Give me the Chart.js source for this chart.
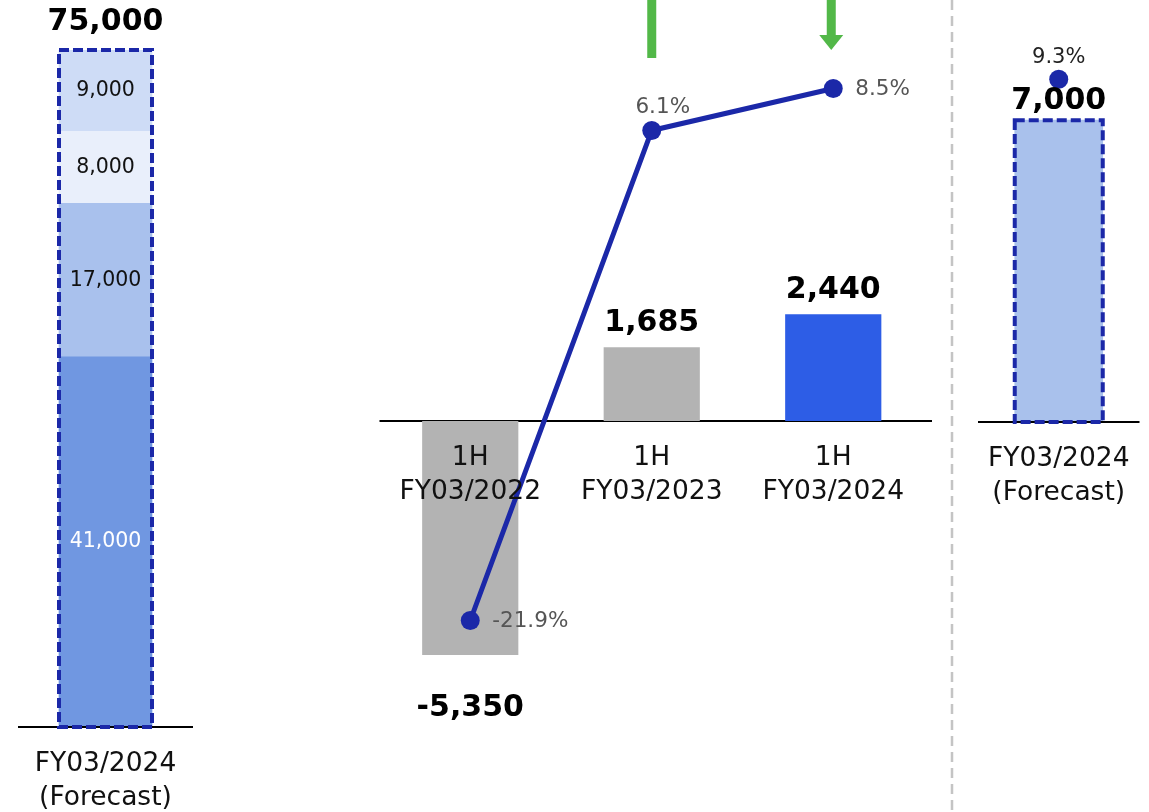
<!DOCTYPE html>
<html lang="en">
<head>
<meta charset="UTF-8">
<title>Operating Income</title>
<script src="https://cdn.jsdelivr.net/npm/chart.js"></script>
<style>
  body { margin: 0; background: #fff; width: 1149px; height: 812px; overflow: hidden; position: relative; }
  canvas { position: absolute; top: 0; }
</style>
</head>
<body>
<canvas id="forecastStack" width="212" height="812" style="left:0px"></canvas>
<canvas id="halfYear" width="580" height="812" style="left:370px"></canvas>
<canvas id="fullYear" width="209" height="812" style="left:940px"></canvas>

<script>
// Full year sales forecast, broken into segments (bottom to top)
const stackCategories = [['FY03/2024', '(Forecast)']];
const stackSegments = [41000, 17000, 8000, 9000];

// First half operating income and margin
const halfCategories = [['1H', 'FY03/2022'], ['1H', 'FY03/2023'], ['1H', 'FY03/2024']];
const halfIncome = [-5350, 1685, 2440];
const halfMargin = [-21.9, 6.1, 8.5];

// Full year operating income forecast and margin
const yearCategories = [['FY03/2024', '(Forecast)']];
const yearIncome = [7000];
const yearMargin = [9.3];

const FONT = "'DejaVu Sans', Verdana, sans-serif";
const NAVY = '#1b28a8';
const GREEN = '#52b848';
const segColors = ['#7097e1', '#a9c1ed', '#e9effb', '#cedcf6'];

Chart.defaults.font.family = FONT;
Chart.defaults.animation = false;

const fmt = v => v.toLocaleString('en-US');

function text(ctx, str, x, y, size, color, bold, align) {
    ctx.font = (bold ? 'bold ' : '') + size + 'px ' + FONT;
    ctx.fillStyle = color;
    ctx.textAlign = align || 'center';
    ctx.textBaseline = 'middle';
    ctx.fillText(str, x, y);
}

function baseline(chart, extra) {
    const ctx = chart.ctx;
    const y0 = chart.scales.y.getPixelForValue(0);
    ctx.save();
    ctx.strokeStyle = '#000';
    ctx.lineWidth = 2;
    ctx.beginPath();
    ctx.moveTo(chart.chartArea.left, y0);
    ctx.lineTo(chart.chartArea.right + (extra || 0), y0);
    ctx.stroke();
    ctx.restore();
}

function categoryLabels(chart, cats) {
    const y0 = chart.scales.y.getPixelForValue(0);
    cats.forEach((lines, i) => {
        const x = chart.scales.x.getPixelForValue(i);
        lines.forEach((line, j) => text(chart.ctx, line, x, y0 + 37 + j * 34, 26.5, '#111'));
    });
}

function dashedBox(ctx, left, top, right, bottom) {
    ctx.save();
    ctx.strokeStyle = NAVY;
    ctx.lineWidth = 4;
    ctx.setLineDash([10, 4]);
    ctx.strokeRect(left, top, right - left, bottom - top);
    ctx.restore();
}

const hidden = { display: false };

// ---- left: stacked forecast bar ----
const stackPlugin = {
    id: 'stackDecor',
    afterDatasetsDraw(chart) {
        const ctx = chart.ctx;
        const y = chart.scales.y;
        baseline(chart);
        const total = stackSegments.reduce((a, b) => a + b, 0);
        let bar;
        stackSegments.forEach((v, i) => {
            bar = chart.getDatasetMeta(i).data[0];
            text(ctx, fmt(v), bar.x, (bar.y + bar.base) / 2, 20.5, i === 0 ? '#fff' : '#111');
        });
        const left = bar.x - bar.width / 2, right = bar.x + bar.width / 2;
        dashedBox(ctx, left, y.getPixelForValue(total), right, y.getPixelForValue(0));
        text(ctx, fmt(total), bar.x, y.getPixelForValue(total) - 28, 30, '#000', true);
        categoryLabels(chart, stackCategories);
    }
};

new Chart(document.getElementById('forecastStack'), {
    type: 'bar',
    data: {
        labels: stackCategories,
        datasets: stackSegments.map((v, i) => ({
            data: [v],
            backgroundColor: segColors[i],
            barThickness: 93
        }))
    },
    options: {
        responsive: false,
        layout: { padding: { left: 18, right: 19, top: 50, bottom: 85 } },
        plugins: { legend: hidden, tooltip: { enabled: false } },
        scales: {
            x: { stacked: true, display: false },
            y: { stacked: true, display: false, min: 0, max: 75000 }
        }
    },
    plugins: [stackPlugin]
});

// ---- middle: first half income bars with margin line ----
function downArrow(ctx, x, shaftEnd, headEnd) {
    ctx.fillStyle = GREEN;
    ctx.fillRect(x - 4.5, 0, 9, shaftEnd);
    if (headEnd) {
        ctx.beginPath();
        ctx.moveTo(x - 12, shaftEnd);
        ctx.lineTo(x + 12, shaftEnd);
        ctx.lineTo(x, headEnd);
        ctx.closePath();
        ctx.fill();
    }
}

const halfPlugin = {
    id: 'halfDecor',
    beforeDatasetsDraw(chart) {
        baseline(chart, 8);
    },
    afterDatasetsDraw(chart) {
        const ctx = chart.ctx;
        const bars = chart.getDatasetMeta(0).data;
        const pts = chart.getDatasetMeta(1).data;

        halfIncome.forEach((v, i) => {
            const b = bars[i];
            const ly = v < 0 ? b.y + 53 : b.y - 24;
            text(ctx, fmt(v), b.x, ly, 30, '#000', true);
        });

        halfMargin.forEach((v, i) => {
            const p = pts[i];
            const label = v.toFixed(1) + '%';
            const inner = i > 0 && i < halfMargin.length - 1;
            if (inner) text(ctx, label, p.x + 11, p.y - 23, 21.5, '#555');
            else text(ctx, label, p.x + 22, p.y + 1, 21.5, '#555', false, 'left');
        });

        const x = chart.scales.x;
        downArrow(ctx, x.getPixelForValue(1), 58, 0);
        downArrow(ctx, x.getPixelForValue(2) - 2, 35, 50);

        categoryLabels(chart, halfCategories);
    }
};

new Chart(document.getElementById('halfYear'), {
    data: {
        labels: halfCategories,
        datasets: [{
            type: 'bar',
            data: halfIncome,
            yAxisID: 'y',
            order: 1,
            backgroundColor: c => c.dataIndex === halfIncome.length - 1 ? '#2d5de6' : '#b3b3b3',
            barPercentage: 0.53,
            categoryPercentage: 1
        }, {
            type: 'line',
            data: halfMargin,
            yAxisID: 'y1',
            order: 0,
            borderColor: NAVY,
            backgroundColor: NAVY,
            borderWidth: 5,
            pointRadius: 9.5,
            pointBorderWidth: 0,
            tension: 0,
            clip: false
        }]
    },
    options: {
        responsive: false,
        layout: { padding: { left: 5, right: 26, top: 71, bottom: 41 } },
        plugins: { legend: hidden, tooltip: { enabled: false } },
        scales: {
            x: { display: false },
            y: { display: false, min: -8000, max: 8000 },
            y1: { display: false, min: -30.5, max: 9.5 }
        }
    },
    plugins: [halfPlugin]
});

// ---- right: full year forecast bar with margin point ----
const yearPlugin = {
    id: 'yearDecor',
    beforeDraw(chart) {
        // dashed divider between the half-year and full-year panels
        const ctx = chart.ctx;
        const dx = chart.chartArea.left - 26;
        ctx.save();
        ctx.strokeStyle = '#c4c4c4';
        ctx.lineWidth = 2.5;
        ctx.setLineDash([10, 6]);
        ctx.beginPath();
        ctx.moveTo(dx, 0);
        ctx.lineTo(dx, chart.height);
        ctx.stroke();
        ctx.restore();
    },
    afterDatasetsDraw(chart) {
        const ctx = chart.ctx;
        baseline(chart);
        const b = chart.getDatasetMeta(0).data[0];
        dashedBox(ctx, b.x - b.width / 2, b.y, b.x + b.width / 2, b.base);
        text(ctx, fmt(yearIncome[0]), b.x, b.y - 19, 30, '#000', true);
        const p = chart.getDatasetMeta(1).data[0];
        text(ctx, yearMargin[0].toFixed(1) + '%', p.x, p.y - 22, 21, '#222');
        categoryLabels(chart, yearCategories);
    }
};

new Chart(document.getElementById('fullYear'), {
    data: {
        labels: yearCategories,
        datasets: [{
            type: 'bar',
            data: yearIncome,
            yAxisID: 'y',
            order: 1,
            backgroundColor: '#a9c1ec',
            barThickness: 88
        }, {
            type: 'line',
            data: yearMargin,
            yAxisID: 'y1',
            order: 0,
            showLine: false,
            backgroundColor: NAVY,
            pointRadius: 9.5,
            pointBorderWidth: 0,
            clip: false
        }]
    },
    options: {
        responsive: false,
        layout: { padding: { left: 38, right: 5, top: 77, bottom: 390 } },
        plugins: { legend: hidden, tooltip: { enabled: false } },
        scales: {
            x: { display: false },
            y: { display: false, min: 0, max: 8000 },
            y1: { display: false, min: -20, max: 9.5 }
        }
    },
    plugins: [yearPlugin]
});
</script>
</body>
</html>
